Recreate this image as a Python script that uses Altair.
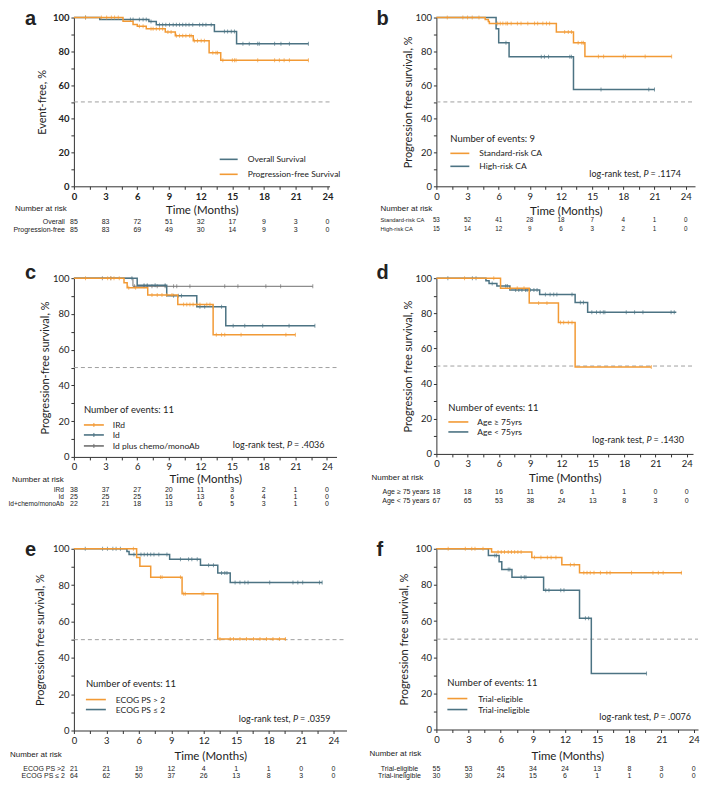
import altair as alt
import pandas as pd

ORANGE = "#F29A35"
BLUE = "#4C7383"
GRAY = "#707070"
FONT = "Lato"
TFONT = "Liberation Sans"
TXT = "#222222"

X_TICKS = [i * 1.5 for i in range(17)]
Y_TICKS = list(range(0, 101, 10))
RISK_T = [0, 3, 6, 9, 12, 15, 18, 21, 24]

# ---------------- panel a ----------------
a_os_t = [2.45, 7.1, 7.8, 13.3, 15.4]
a_os_s = [98.8, 97.6, 95.7, 91.8, 84.5]
a_os_end = 22.2
a_os_c = [1.1, 5.35, 5.6, 6.2, 6.55, 6.85, 7.3, 8.1, 8.4, 8.7, 9.05, 9.4, 9.7, 10.0, 10.3, 10.6,
          10.9, 11.25, 11.9, 12.2, 12.5, 13.0, 14.25, 14.55, 14.9, 15.2, 16.0, 16.6, 17.4, 17.55,
          19.0, 19.6, 20.4, 22.2]
a_pfs_t = [4.65, 5.6, 6.0, 6.85, 8.65, 9.6, 11.3, 12.8, 13.9]
a_pfs_s = [97.8, 95.9, 94.9, 93.3, 91.4, 89.2, 86.3, 79.2, 74.7]
a_pfs_end = 22.2
a_pfs_c = [1.1, 2.6, 3.1, 3.55, 3.85, 4.2, 6.2, 6.55, 7.3, 7.5, 7.8, 8.1, 8.4, 8.9, 9.2, 9.7, 10.0,
           10.3, 10.6, 10.95, 11.1, 11.4, 11.7, 12.05, 12.35, 13.15, 13.45, 13.6, 14.1, 15.0, 15.2,
           15.35, 17.4, 19.0, 19.45, 19.9, 20.4, 22.2]
a_risk_labels = ["Overall", "Progression-free"]
a_risk_overall = [85, 83, 72, 51, 32, 17, 9, 3, 0]
a_risk_pfs = [85, 83, 69, 49, 30, 14, 9, 3, 0]

# ---------------- panel b ----------------
b_std_t = [4.7, 5.0, 5.1, 11.55, 13.2, 14.3]
b_std_s = [98.8, 97.6, 96.5, 91.4, 85.1, 76.9]
b_std_end = 22.65
b_std_c = [1.05, 2.55, 3.0, 3.45, 4.1, 5.9, 6.15, 6.4, 6.7, 6.85, 7.2, 7.8, 8.15, 8.8, 9.45, 9.75,
           10.25, 10.6, 10.9, 12.35, 12.7, 13.0, 13.65, 14.0, 14.15, 15.6, 16.1, 18.0, 18.2, 20.1, 22.65]
b_hr_t = [5.75, 6.0, 7.0, 13.2]
b_hr_s = [93.3, 85.1, 76.7, 57.3]
b_hr_end = 21.0
b_hr_c = [6.7, 10.1, 10.4, 10.8, 12.85, 13.0, 15.85, 20.45, 21.0]
b_risk_labels = ["Standard-risk CA", "High-risk CA"]
b_risk_std = [53, 52, 41, 28, 18, 7, 4, 1, 0]
b_risk_hr = [15, 14, 12, 9, 6, 3, 2, 1, 0]

# ---------------- panel c ----------------
c_ird_t = [4.75, 5.05, 7.0, 9.85, 13.2]
c_ird_s = [97.4, 94.7, 90.6, 85.3, 68.3]
c_ird_end = 21.0
c_ird_c = [1.1, 3.2, 3.5, 3.8, 4.3, 5.2, 5.85, 7.4, 7.9, 8.35, 8.8, 9.3, 10.4, 10.7, 11.0, 11.3,
           11.65, 11.95, 12.6, 12.9, 13.5, 14.0, 14.3, 15.85, 20.1, 21.0]
c_id_t = [6.0, 8.8, 11.65, 14.4]
c_id_s = [96.0, 90.2, 84.0, 73.4]
c_id_end = 22.85
c_id_c = [5.5, 6.65, 6.95, 7.7, 8.65, 9.45, 9.9, 10.2, 11.95, 12.4, 13.2, 14.0, 15.1, 16.2, 17.9,
          20.4, 22.85]
c_ch_t = [5.6]
c_ch_s = [95.45]
c_ch_end = 22.65
c_ch_c = [2.7, 3.5, 5.75, 6.65, 6.95, 7.4, 7.9, 8.65, 9.45, 9.75, 11.0, 14.3, 15.55, 18.2, 19.6, 22.65]
c_risk_labels = ["IRd", "Id", "Id+chemo/monoAb"]
c_risk_ird = [38, 37, 27, 20, 11, 3, 2, 1, 0]
c_risk_id = [25, 25, 25, 16, 13, 6, 4, 1, 0]
c_risk_ch = [22, 21, 18, 13, 6, 5, 3, 1, 0]

# ---------------- panel d ----------------
d_old_t = [6.15, 8.9, 11.7, 13.3]
d_old_s = [94.2, 85.8, 74.8, 49.5]
d_old_end = 20.6
d_old_c = [2.7, 5.5, 7.1, 7.75, 8.4, 9.8, 10.6, 11.9, 12.2, 12.65, 13.0, 20.6]
d_yng_t = [4.75, 5.05, 5.8, 7.05, 9.9, 13.3, 14.5]
d_yng_s = [98.5, 97.0, 95.5, 93.2, 90.7, 86.2, 80.6]
d_yng_end = 23.0
d_yng_c = [1.1, 3.45, 3.8, 5.35, 6.15, 6.65, 6.8, 7.6, 7.9, 8.2, 8.55, 8.7, 9.0, 9.35, 9.65, 10.45,
           10.9, 11.25, 11.55, 13.0, 13.8, 14.1, 14.9, 15.35, 15.7, 16.0, 16.15, 18.2, 19.0, 19.8,
           22.5, 22.8]
d_risk_labels = ["Age ≥ 75 years", "Age < 75 years"]
d_risk_old = [18, 18, 16, 11, 6, 1, 1, 0, 0]
d_risk_yng = [67, 65, 53, 38, 24, 13, 8, 3, 0]

# ---------------- panel e ----------------
e_hi_t = [5.8, 6.1, 7.1, 10.0, 13.3]
e_hi_s = [95.2, 90.4, 84.4, 75.3, 50.4]
e_hi_end = 19.6
e_hi_c = [5.5, 8.0, 8.15, 9.85, 10.15, 10.3, 11.85, 12.0, 13.5, 14.45, 14.75, 15.35, 15.95, 16.6,
          17.2, 17.8, 18.4, 19.0, 19.55]
e_lo_t = [4.9, 5.1, 8.85, 11.7, 13.3, 14.45]
e_lo_s = [98.5, 96.9, 94.2, 90.9, 86.7, 81.5]
e_lo_end = 22.95
e_lo_c = [1.05, 2.65, 3.1, 3.6, 3.9, 4.3, 5.55, 6.2, 6.5, 6.8, 7.1, 7.4, 7.85, 8.6, 9.85, 10.6, 10.9,
          11.4, 12.45, 12.9, 13.65, 13.95, 14.15, 14.9, 15.35, 15.8, 16.1, 18.1, 20.25, 20.7, 21.15,
          22.7, 22.95]
e_risk_labels = ["ECOG PS >2", "ECOG PS ≤ 2"]
e_risk_hi = [21, 21, 19, 12, 4, 1, 1, 0, 0]
e_risk_lo = [64, 62, 50, 37, 26, 13, 8, 3, 0]

# ---------------- panel f ----------------
f_el_t = [5.15, 8.9, 11.7, 13.35]
f_el_s = [98.2, 95.2, 91.1, 86.7]
f_el_end = 22.9
f_el_c = [1.1, 2.7, 3.3, 3.6, 4.35, 5.75, 6.05, 6.35, 6.7, 7.0, 7.3, 7.6, 7.9, 9.15, 9.75, 10.35,
          10.7, 11.15, 12.5, 12.85, 13.75, 14.05, 14.35, 14.7, 15.3, 15.9, 16.2, 18.2, 20.2, 20.7,
          21.15, 22.85]
f_in_t = [4.85, 5.85, 6.1, 7.05, 10.0, 13.35, 14.45]
f_in_s = [96.3, 92.8, 88.6, 84.3, 77.1, 61.6, 31.0]
f_in_end = 19.6
f_in_c = [5.45, 5.6, 6.7, 6.85, 7.9, 8.2, 8.35, 10.2, 10.5, 11.6, 11.9, 13.9, 14.2, 19.6]
f_risk_labels = ["Trial-eligible", "Trial-ineligible"]
f_risk_el = [55, 53, 45, 34, 24, 13, 8, 3, 0]
f_risk_in = [30, 30, 24, 15, 6, 1, 1, 0, 0]

ONE = pd.DataFrame({"d": [0]})


def step_df(evt_t, evt_s, end_t):
    return pd.DataFrame({"t": [0.0] + list(evt_t) + [end_t],
                         "s": [100.0] + list(evt_s) + [evt_s[-1]]})


def cens_df(cens, evt_t, evt_s):
    ys = []
    for c in cens:
        s = 100.0
        for et, es in zip(evt_t, evt_s):
            if et <= c:
                s = es
        ys.append(s)
    return pd.DataFrame({"t": cens, "s": ys})


def txt(x, y, text, size, align="left", font=FONT, weight="normal", style="normal",
        baseline="middle"):
    return alt.Chart(ONE).mark_text(text=text, fontSize=size, align=align, baseline=baseline,
                                    font=font, fontWeight=weight, fontStyle=style,
                                    color=TXT).encode(x=alt.value(x), y=alt.value(y))


def hline(x1, x2, y, color, width=1.5):
    return alt.Chart(ONE).mark_rule(color=color, strokeWidth=width).encode(
        x=alt.value(x1), x2=alt.value(x2), y=alt.value(y))


def vtick(x, y, color):
    return alt.Chart(ONE).mark_rule(color=color, strokeWidth=1).encode(
        x=alt.value(x), y=alt.value(y - 2), y2=alt.value(y + 2))


def build_panel(p):
    w, h, xmax = p["w"], p["h"], p["xmax"]
    fw = "bold" if p.get("bold") else "normal"
    xs = alt.Scale(domain=[0, xmax], nice=False, zero=False)
    ys = alt.Scale(domain=[0, 100], nice=False)
    xa = alt.Axis(values=X_TICKS,
                  labelExpr="datum.value % 3 == 0 ? format(datum.value, 'd') : ''",
                  title="Time (Months)", tickSize=3, labelPadding=2, labelFontWeight=fw,
                  labelFontSize=9.5, titleFontSize=11.5, labelFlush=False, labelOverlap=False,
                  titleY=p["xty"], titleBaseline="middle")
    ya = alt.Axis(values=Y_TICKS,
                  labelExpr="datum.value % 20 == 0 ? format(datum.value, 'd') : ''",
                  title=p["ytitle"], tickSize=3, labelPadding=2, labelFontWeight=fw,
                  labelFontSize=9.5, titleFontSize=11, labelFlush=False, labelOverlap=False,
                  titleX=p["ytx"], titleBaseline="middle")
    X = alt.X("t:Q", scale=xs, axis=xa)
    Y = alt.Y("s:Q", scale=ys, axis=ya)

    layers = [alt.Chart(pd.DataFrame({"t": [0, xmax], "s": [50, 50]})).mark_line(
        color="#A0A0A0", strokeDash=[4, 3], strokeWidth=1).encode(x=X, y=Y)]

    for (color, sw, et, es, end, cens) in p["groups"]:
        layers.append(alt.Chart(step_df(et, es, end)).mark_line(
            interpolate="step-after", color=color, strokeWidth=sw).encode(x=X, y=Y))
        layers.append(alt.Chart(cens_df(cens, et, es)).mark_tick(
            orient="vertical", color=color, size=4, thickness=1).encode(x=X, y=Y))

    # legend
    lx1, lx2, ltx = p["leg_x"]
    for (color, label, ly, mk) in p["legend"]:
        layers.append(hline(lx1, lx2, ly, color, 1.6))
        if mk:
            layers.append(vtick((lx1 + lx2) / 2, ly, color))
        layers.append(txt(ltx, ly, label, 8.5))
    if p.get("noe"):
        nx, ny, ntext = p["noe"]
        layers.append(txt(nx, ny, ntext, 9.5))
    if p.get("lr"):
        xe, ly, pv = p["lr"]
        layers.append(txt(xe, ly, "= " + pv, 9, align="right"))
        layers.append(txt(xe - 32.5, ly, "P", 9, align="right", style="italic"))
        layers.append(txt(xe - 40, ly, "log-rank test,", 9, align="right"))

    # number at risk table
    nx, ny = p["nar"]
    layers.append(txt(nx, ny, "Number at risk", 8, font=TFONT))
    lx, lalign, lsize = p["row_lab"]
    nsize = p.get("nsize", 7)
    for (label, vals, ry) in p["rows"]:
        layers.append(alt.Chart(pd.DataFrame({"t": RISK_T, "n": vals})).mark_text(
            fontSize=nsize, font=TFONT, color=TXT, align="center", baseline="middle").encode(
            x=X, y=alt.value(ry), text="n:N"))
        layers.append(txt(lx, ry, label, lsize, align=lalign, font=TFONT))

    # panel letter
    px, py, letter = p["letter"]
    layers.append(txt(px, py, letter, 20, font=TFONT, weight="bold", baseline="alphabetic"))

    return alt.layer(*layers).properties(width=w, height=h)


HA, HB, HC, HD, HE, HF = 169, 169, 179, 176, 182, 181

panels_cfg = [
    dict(w=256, h=HA, xmax=24.2, bold=True, ytitle="Event-free, %", ytx=-31, xty=24,
         groups=[(BLUE, 1.5, a_os_t, a_os_s, a_os_end, a_os_c),
                 (ORANGE, 1.5, a_pfs_t, a_pfs_s, a_pfs_end, a_pfs_c)],
         leg_x=(146, 164, 174),
         legend=[(BLUE, "Overall Survival", HA - 27, False),
                 (ORANGE, "Progression-free Survival", HA - 12, False)],
         nar=(-59, HA + 23), row_lab=(-9, "right", 7),
         rows=[(a_risk_labels[0], a_risk_overall, HA + 36),
               (a_risk_labels[1], a_risk_pfs, HA + 44)],
         letter=(-49, 7, "a")),
    dict(w=259, h=HB, xmax=24.9, ytitle="Progression free survival, %", ytx=-28, xty=25,
         groups=[(BLUE, 1.5, b_hr_t, b_hr_s, b_hr_end, b_hr_c),
                 (ORANGE, 1.5, b_std_t, b_std_s, b_std_end, b_std_c)],
         leg_x=(14, 33, 43),
         legend=[(ORANGE, "Standard-risk CA", HB - 33, False),
                 (BLUE, "High-risk CA", HB - 20, False)],
         noe=(14, HB - 47, "Number of events: 9"), lr=(245, HB - 12, ".1174"),
         nar=(-56, HB + 23), row_lab=(-56, "left", 5.8), nsize=6.3,
         rows=[(b_risk_labels[0], b_risk_std, HB + 34),
               (b_risk_labels[1], b_risk_hr, HB + 43)],
         letter=(-60, 7, "b")),
    dict(w=263, h=HC, xmax=24.9, ytitle="Progression-free survival, %", ytx=-28, xty=22.5,
         groups=[(GRAY, 1.0, c_ch_t, c_ch_s, c_ch_end, c_ch_c),
                 (BLUE, 1.5, c_id_t, c_id_s, c_id_end, c_id_c),
                 (ORANGE, 1.5, c_ird_t, c_ird_s, c_ird_end, c_ird_c)],
         leg_x=(10, 30, 39),
         legend=[(ORANGE, "IRd", HC - 32, True), (BLUE, "Id", HC - 22, True),
                 (GRAY, "Id plus chemo/monoAb", HC - 11, True)],
         noe=(10, HC - 47, "Number of events: 11"), lr=(251, HC - 12, ".4036"),
         nar=(-62, HC + 23), row_lab=(-10, "right", 6.6),
         rows=[(c_risk_labels[0], c_risk_ird, HC + 33),
               (c_risk_labels[1], c_risk_id, HC + 40.5),
               (c_risk_labels[2], c_risk_ch, HC + 47.5)],
         letter=(-49, 0.5, "c")),
    dict(w=257, h=HD, xmax=24.6, ytitle="Progression free survival, %", ytx=-28, xty=25,
         groups=[(BLUE, 1.5, d_yng_t, d_yng_s, d_yng_end, d_yng_c),
                 (ORANGE, 1.5, d_old_t, d_old_s, d_old_end, d_old_c)],
         leg_x=(12, 32, 41),
         legend=[(ORANGE, "Age ≥ 75yrs", HD - 32, False),
                 (BLUE, "Age < 75yrs", HD - 22, False)],
         noe=(12, HD - 46, "Number of events: 11"), lr=(248, HD - 14, ".1430"),
         nar=(-65, HD + 24), row_lab=(-7, "right", 7),
         rows=[(d_risk_labels[0], d_risk_old, HD + 38),
               (d_risk_labels[1], d_risk_yng, HD + 47)],
         letter=(-60, 0.5, "d")),
    dict(w=273, h=HE, xmax=25.2, ytitle="Progression free survival, %", ytx=-33, xty=26,
         groups=[(BLUE, 1.5, e_lo_t, e_lo_s, e_lo_end, e_lo_c),
                 (ORANGE, 1.5, e_hi_t, e_hi_s, e_hi_end, e_hi_c)],
         leg_x=(12, 32, 42),
         legend=[(ORANGE, "ECOG PS > 2", HE - 31, False),
                 (BLUE, "ECOG PS ≤ 2", HE - 21, False)],
         noe=(12, HE - 47, "Number of events: 11"), lr=(257, HE - 12, ".0359"),
         nar=(-64, HE + 25), row_lab=(-9, "right", 7),
         rows=[(e_risk_labels[0], e_risk_hi, HE + 39),
               (e_risk_labels[1], e_risk_lo, HE + 46)],
         letter=(-49, 7.4, "e")),
    dict(w=262, h=HF, xmax=24.4, ytitle="Progression free survival, %", ytx=-32, xty=27,
         groups=[(BLUE, 1.5, f_in_t, f_in_s, f_in_end, f_in_c),
                 (ORANGE, 1.5, f_el_t, f_el_s, f_el_end, f_el_c)],
         leg_x=(11, 31, 42),
         legend=[(ORANGE, "Trial-eligible", HF - 31, False),
                 (BLUE, "Trial-ineligible", HF - 20, False)],
         noe=(11, HF - 47, "Number of events: 11"), lr=(255, HF - 13, ".0076"),
         nar=(-67, HF + 25), row_lab=(-37, "center", 7),
         rows=[(f_risk_labels[0], f_risk_el, HF + 40),
               (f_risk_labels[1], f_risk_in, HF + 47)],
         letter=(-60, 7.4, "f")),
]

panels = [build_panel(p) for p in panels_cfg]

chart = alt.concat(*panels, columns=2, spacing={"row": 92, "column": 90},
                   bounds="flush").properties(
    padding={"left": 0, "top": 0, "right": 0, "bottom": 0}, background="white"
).configure_view(stroke=None).configure_axis(
    grid=False, domainColor="#333333", tickColor="#333333", labelColor=TXT, titleColor=TXT,
    labelFont=FONT, titleFont=FONT, titleFontWeight="normal", domainWidth=1, tickWidth=1
)

chart.save("out.html", embed_options={"renderer": "svg", "actions": False})
